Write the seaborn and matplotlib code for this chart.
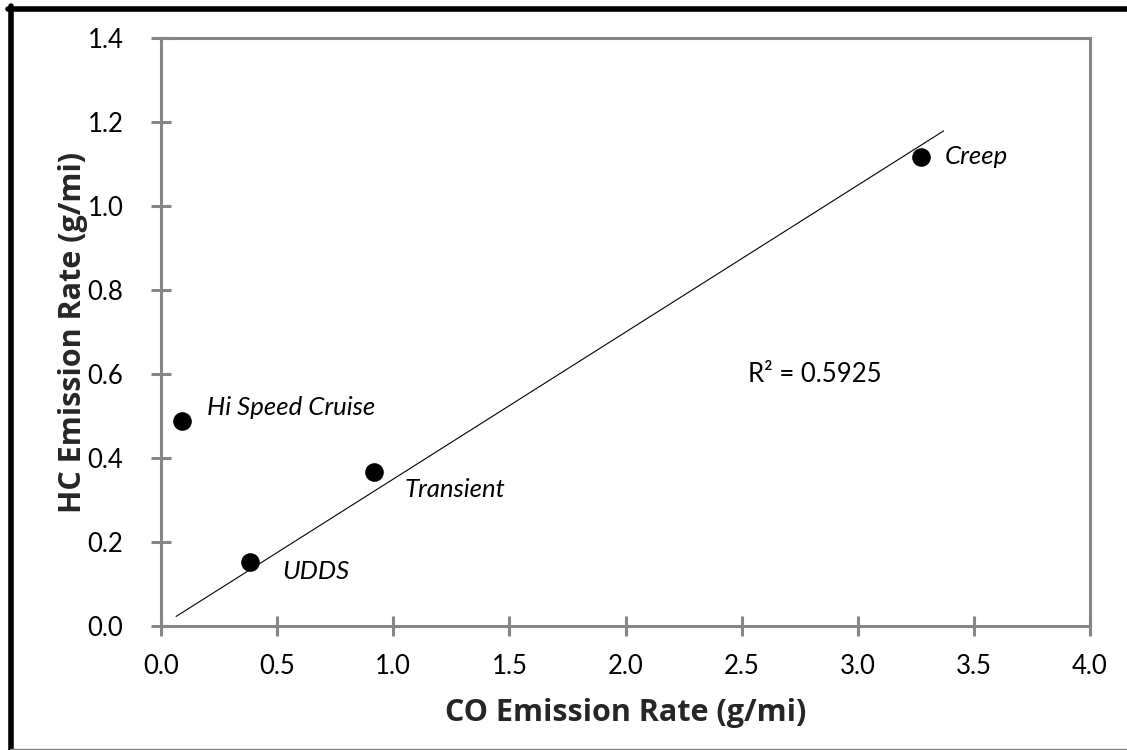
import numpy as np
import pandas as pd
import matplotlib
matplotlib.use("Agg")
import matplotlib.pyplot as plt
from matplotlib.lines import Line2D
import seaborn as sns

# ---- data ----
cycles = ["Hi Speed Cruise", "UDDS", "Transient", "Creep"]
co_rate = [0.09, 0.383, 0.917, 3.272]
hc_rate = [0.488, 0.152, 0.367, 1.117]
trend_x_range = [0.065, 3.37]
r2_text = "R\u00b2 = 0.5925"
x_ticks = [0.0, 0.5, 1.0, 1.5, 2.0, 2.5, 3.0, 3.5, 4.0]
y_ticks = [0.0, 0.2, 0.4, 0.6, 0.8, 1.0, 1.2, 1.4]
label_offsets = {"Hi Speed Cruise": (18, 10), "UDDS": (23, -7),
                 "Transient": (22, -13), "Creep": (17, 0)}

df = pd.DataFrame({"cycle": cycles, "co": co_rate, "hc": hc_rate})

# trendline through origin (least squares, zero intercept)
xa = np.array(co_rate)
ya = np.array(hc_rate)
slope = float((xa * ya).sum() / (xa * xa).sum())
tx = np.array(trend_x_range)
trend = pd.DataFrame({"x": tx, "y": slope * tx})

sns.set_theme(style="white")
plt.rcParams["font.family"] = ["Lato", "DejaVu Sans"]

GRAY = "#868686"
fig = plt.figure(figsize=(11.27, 7.5), dpi=100)
ax = fig.add_axes([161 / 1127, 1 - 626 / 750, (1090 - 161) / 1127, (626 - 38) / 750])

sns.lineplot(data=trend, x="x", y="y", ax=ax, color="black", linewidth=0.8)
sns.scatterplot(data=df, x="co", y="hc", ax=ax, color="black", s=180,
                edgecolor="black", linewidth=0, zorder=3)

for c, x, y in zip(cycles, co_rate, hc_rate):
    ax.annotate(c, (x, y), xytext=label_offsets[c], textcoords="offset points",
                ha="left", va="center", fontsize=18.5, style="italic", color="black")

ax.text(2.527, 0.598, r2_text, ha="left", va="center", fontsize=18.5, color="black")

ax.set_xlim(0, 4.0)
ax.set_ylim(0, 1.4)
ax.set_xticks(x_ticks)
ax.set_yticks(y_ticks)
ax.set_xticklabels([f"{v:.1f}" for v in x_ticks])
ax.set_yticklabels([f"{v:.1f}" for v in y_ticks])
ax.tick_params(axis="both", direction="inout", length=14, width=2.2, color=GRAY,
               labelsize=18.5, labelcolor="black")
ax.tick_params(axis="x", bottom=True, pad=13)
ax.tick_params(axis="y", left=True, pad=20)
for sp in ax.spines.values():
    sp.set_color(GRAY)
    sp.set_linewidth(2.2)
    sp.set_visible(True)

ax.set_xlabel("CO Emission Rate (g/mi)", fontsize=22, fontweight="bold", labelpad=14,
              family=["Open Sans", "DejaVu Sans"])
ax.set_ylabel("HC Emission Rate (g/mi)", fontsize=22, fontweight="bold", labelpad=0,
              family=["Open Sans", "DejaVu Sans"])
ax.grid(False)

# outer frame
fig.add_artist(Line2D([10.5 / 1127, 10.5 / 1127], [0, 1 - 6 / 750], transform=fig.transFigure,
                      color="black", linewidth=4))
fig.add_artist(Line2D([8 / 1127, 1], [1 - 9 / 750, 1 - 9 / 750], transform=fig.transFigure,
                      color="black", linewidth=4))
fig.add_artist(Line2D([10 / 1127, 1], [1.5 / 750, 1.5 / 750], transform=fig.transFigure,
                      color=GRAY, linewidth=1))

fig.savefig("out.png", dpi=100, facecolor="white")
